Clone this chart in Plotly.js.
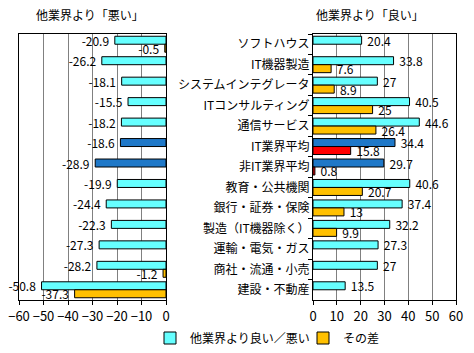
<!DOCTYPE html>
<html><head><meta charset="utf-8">
<script src="https://cdn.plot.ly/plotly-3.0.1.min.js"></script>
<style>html,body{margin:0;padding:0;background:#fff}</style>
</head><body><div id="chart" style="width:474px;height:353px"></div>
<script>
const categories = ['ソフトハウス','IT機器製造','システムインテグレータ','ITコンサルティング','通信サービス','IT業界平均','非IT業界平均','教育・公共機関','銀行・証券・保険','製造（IT機器除く）','運輸・電気・ガス','商社・流通・小売','建設・不動産'];
const better = [20.4,33.8,27,40.5,44.6,34.4,29.7,40.6,37.4,32.2,27.3,27,13.5];
const worse = [-20.9,-26.2,-18.1,-15.5,-18.2,-18.6,-28.9,-19.9,-24.4,-22.3,-27.3,-28.2,-50.8];
const diffPos = [null,7.6,8.9,25,26.4,15.8,0.8,20.7,13,9.9,null,null,null];
const diffNeg = [-0.5,null,null,null,null,null,null,null,null,null,null,-1.2,-37.3];
const highlight = ['IT業界平均','非IT業界平均'];
const seriesNames = ['他業界より良い／悪い','その差'];
const titles = ['他業界より「悪い」','他業界より「良い」'];

const CYAN='#66FFFF', BLUE='#1F78C8', ORANGE='#FFC000', RED='#FF0000';
const mainColors = categories.map(c => highlight.includes(c) ? BLUE : CYAN);
const diffColors = categories.map(c => highlight.includes(c) ? RED : ORANGE);
const NB='\u00a0';
const lab = arr => arr.map(v => v==null ? '' : (v<0 ? String(v)+NB : NB+String(v)));
const FONT = '"Noto Sans CJK JP", sans-serif';

function bar(x, colors, name, xa, ya, showlegend){
  return {type:'bar', orientation:'h', x:x, y:categories, name:name, xaxis:xa, yaxis:ya,
    marker:{color:colors, line:{color:'#000', width:1}},
    text:lab(x), textposition:'outside', cliponaxis:false, constraintext:'none',
    textfont:{family:FONT, size:12, color:'#000'},
    showlegend:showlegend, hoverinfo:'none'};
}
const data = [
  bar(worse, mainColors, seriesNames[0], 'x', 'y', false),
  bar(diffNeg, diffColors, seriesNames[1], 'x', 'y', false),
  bar(better, mainColors, seriesNames[0], 'x2', 'y2', true),
  bar(diffPos, diffColors, seriesNames[1], 'x2', 'y2', true)
];
const yDom=[53/353, 319/353];
const xCommon = {dtick:10, tick0:0, ticks:'outside', ticklen:4, tickcolor:'#000', showline:true, mirror:true,
  linecolor:'#000', linewidth:1, showgrid:true, gridcolor:'#808080', gridwidth:1, zeroline:false,
  tickfont:{size:13}, fixedrange:true};
const layout = {
  width:474, height:353, margin:{l:0,r:0,t:0,b:0}, paper_bgcolor:'#fff', plot_bgcolor:'#fff',
  font:{family:FONT, size:12, color:'#000'},
  barmode:'group', bargap:0.22, bargroupgap:0,
  xaxis:Object.assign({domain:[19/474,166/474], range:[-60,0], anchor:'y'}, xCommon),
  yaxis:{domain:yDom, type:'category', autorange:'reversed', showticklabels:false, ticks:'', showline:true, mirror:true,
    linecolor:'#000', linewidth:1, showgrid:false, zeroline:false, anchor:'x', fixedrange:true},
  xaxis2:Object.assign({domain:[313/474,456/474], range:[0,60], anchor:'y2'}, xCommon),
  yaxis2:{domain:yDom, type:'category', autorange:'reversed', ticks:'outside', tickson:'boundaries', ticklen:4, tickcolor:'#000',
    showline:true, mirror:true, linecolor:'#000', linewidth:1, showgrid:false, zeroline:false, anchor:'x2',
    tickfont:{size:12}, fixedrange:true},
  showlegend:true,
  legend:{orientation:'h', x:150/474, y:15/353, xanchor:'left', yanchor:'middle', font:{size:12}, bgcolor:'rgba(0,0,0,0)',
    entrywidth:108, itemwidth:30},
  annotations:[
    {text:titles[0], xref:'paper', yref:'paper', x:90/474, y:338/353, showarrow:false, xanchor:'center', yanchor:'middle', font:{size:12}},
    {text:titles[1], xref:'paper', yref:'paper', x:370/474, y:338/353, showarrow:false, xanchor:'center', yanchor:'middle', font:{size:12}}
  ]
};
Plotly.newPlot('chart', data, layout, {staticPlot:true});
</script></body></html>
